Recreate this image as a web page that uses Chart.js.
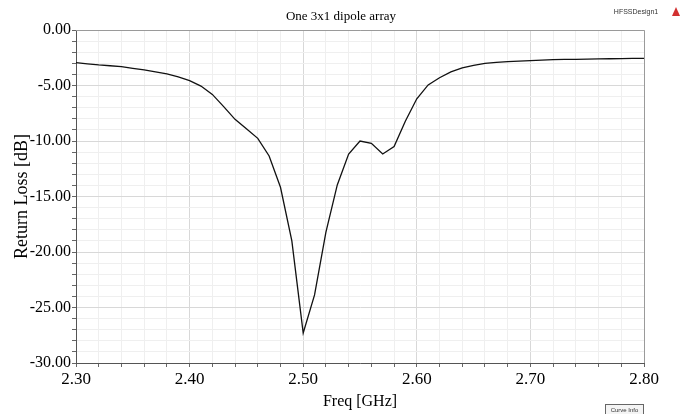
<!DOCTYPE html>
<html>
<head>
<meta charset="utf-8">
<script src="https://cdn.jsdelivr.net/npm/chart.js@4.4.1/dist/chart.umd.min.js"></script>
<style>
  html, body { margin: 0; padding: 0; background: #fff; }
  #wrap { width: 682px; height: 414px; position: relative; }
</style>
</head>
<body>
<div id="wrap"><canvas id="myChart"></canvas></div>
<script>
// Frequency sweep in GHz (0.01 GHz steps) and return loss in dB
const freq = [
  2.30, 2.31, 2.32, 2.33, 2.34, 2.35, 2.36, 2.37, 2.38, 2.39,
  2.40, 2.41, 2.42, 2.43, 2.44, 2.45, 2.46, 2.47, 2.48, 2.49,
  2.50, 2.51, 2.52, 2.53, 2.54, 2.55, 2.56, 2.57, 2.58, 2.59,
  2.60, 2.61, 2.62, 2.63, 2.64, 2.65, 2.66, 2.67, 2.68, 2.69,
  2.70, 2.71, 2.72, 2.73, 2.74, 2.75, 2.76, 2.77, 2.78, 2.79, 2.80
];
const returnLoss = [
  -2.94, -3.05, -3.15, -3.22, -3.30, -3.45, -3.60, -3.78, -3.96, -4.22,
  -4.56, -5.05, -5.80, -6.90, -8.05, -8.90, -9.76, -11.35, -14.17, -19.00,
  -27.30, -23.87, -18.20, -13.96, -11.17, -10.00, -10.21, -11.17, -10.50, -8.20,
  -6.20, -4.95, -4.30, -3.78, -3.42, -3.18, -3.00, -2.92, -2.85, -2.80,
  -2.76, -2.71, -2.67, -2.65, -2.64, -2.62, -2.60, -2.59, -2.58, -2.56, -2.55
];
const xTickLabels = ["2.30", "2.40", "2.50", "2.60", "2.70", "2.80"];
const yTickLabels = ["0.00", "-5.00", "-10.00", "-15.00", "-20.00", "-25.00", "-30.00"];

const serif = "'Liberation Serif', 'DejaVu Serif', serif";

function isMajor(labels, v) {
  return labels.indexOf(v.toFixed(2)) !== -1;
}

// frame, header text and the little "Curve Info" box like the HFSS window
const extras = {
  id: "extras",
  afterDraw(chart) {
    const c = chart.ctx;
    const a = chart.chartArea;
    c.save();
    c.strokeStyle = "#9a9a9a";
    c.lineWidth = 1;
    c.beginPath();
    c.moveTo(a.left, a.top + 0.5);
    c.lineTo(a.right + 0.5, a.top + 0.5);
    c.lineTo(a.right + 0.5, a.bottom);
    c.stroke();

    c.fillStyle = "#000";
    c.font = "13px " + serif;
    c.textAlign = "center";
    c.textBaseline = "middle";
    c.fillText("One 3x1 dipole array", 341, 17);

    c.font = "7px 'Liberation Sans Narrow', 'Liberation Sans', sans-serif";
    c.fillStyle = "#333";
    c.fillText("HFSSDesign1", 636, 12);
    c.fillStyle = "#d23030";
    c.beginPath();
    c.moveTo(676, 7);
    c.lineTo(680, 16);
    c.lineTo(672, 16);
    c.closePath();
    c.fill();

    c.strokeStyle = "#666";
    c.fillStyle = "#f4f4f4";
    c.fillRect(605.5, 404.5, 38, 12);
    c.strokeRect(605.5, 404.5, 38, 12);
    c.fillStyle = "#333";
    c.font = "6px 'Liberation Sans', sans-serif";
    c.fillText("Curve Info", 624.5, 410);
    c.restore();
  }
};

const ctx = document.getElementById("myChart").getContext("2d");

const data = {
  datasets: [
    {
      label: "dB(S(1,1))",
      data: freq.map((f, i) => ({ x: f, y: returnLoss[i] })),
      borderColor: "#111",
      borderWidth: 1.3,
      pointRadius: 0,
      tension: 0,
      fill: false,
    },
  ],
};

const config = {
  type: "line",
  data: data,
  plugins: [extras],
  options: {
    responsive: true,
    maintainAspectRatio: false,
    animation: false,
    layout: {
      padding: { top: 30, right: 38, left: 0, bottom: 0 },
    },
    plugins: {
      legend: { display: false },
      title: { display: false },
      tooltip: { enabled: false },
    },
    scales: {
      x: {
        type: "linear",
        min: 2.3,
        max: 2.8,
        afterFit: (s) => { s.height = 51; },
        ticks: {
          stepSize: 0.02,
          maxTicksLimit: 100,
          autoSkip: false,
          maxRotation: 0,
          padding: 2,
          color: "#000",
          font: { family: serif, size: 17 },
          callback: (v) => (isMajor(xTickLabels, v) ? v.toFixed(2) : ""),
        },
        grid: {
          color: (c) => (c.tick && isMajor(xTickLabels, c.tick.value) ? "#d8d8d8" : "#efefef"),
          tickColor: "#666",
          tickLength: 4,
        },
        border: { color: "#555", width: 1 },
        title: {
          display: true,
          text: "Freq [GHz]",
          color: "#000",
          font: { family: serif, size: 16 },
          padding: { top: 0, bottom: 3 },
        },
      },
      y: {
        min: -30,
        max: 0,
        afterFit: (s) => { s.width = 76; },
        ticks: {
          stepSize: 1,
          maxTicksLimit: 100,
          autoSkip: false,
          padding: 1,
          color: "#000",
          font: { family: serif, size: 16 },
          callback: (v) => (isMajor(yTickLabels, v) ? v.toFixed(2) : ""),
        },
        grid: {
          color: (c) => (c.tick && isMajor(yTickLabels, c.tick.value) ? "#d8d8d8" : "#efefef"),
          tickColor: "#666",
          tickLength: 4,
        },
        border: { color: "#555", width: 1 },
        title: {
          display: true,
          text: "Return Loss [dB]",
          color: "#000",
          font: { family: serif, size: 18 },
          padding: { top: 11, bottom: 0 },
        },
      },
    },
  },
};

const progressChart = new Chart(ctx, config);
</script>
</body>
</html>
